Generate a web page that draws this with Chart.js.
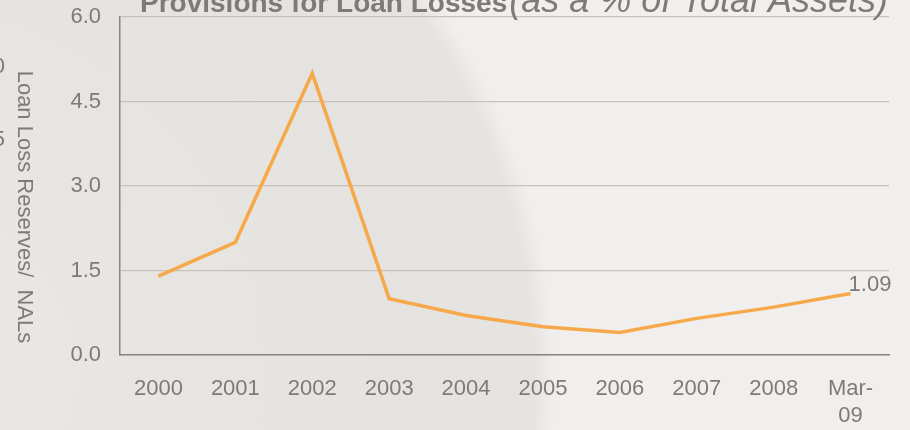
<!DOCTYPE html>
<html>
<head>
<meta charset="utf-8">
<script src="https://cdn.jsdelivr.net/npm/chart.js@4/dist/chart.umd.min.js"></script>
<style>
    html, body {
        margin: 0;
        padding: 0;
        width: 910px;
        height: 430px;
        overflow: hidden;
        background: #f0efed;
    }
    body {
        background: radial-gradient(circle 668px at -114px 380px, #e9e8e4 0%, #e5e3df 80%, #e6e4e0 97%, #f0efed 100%), #f0efed;
    }
    #wrap { position: relative; width: 910px; height: 430px; }
</style>
</head>
<body>
<div id="wrap"><canvas id="loanChart"></canvas></div>
<script>
// data
const categories = ['2000', '2001', '2002', '2003', '2004', '2005', '2006', '2007', '2008', ['Mar-', '09']];
const provisions = [1.4, 2.0, 5.0, 1.0, 0.7, 0.5, 0.4, 0.65, 0.85, 1.09];
const yTicks = [0, 1.5, 3.0, 4.5, 6.0];

const greyText = '#7f7a76';
const fontFamily = '"Liberation Sans", Arial, sans-serif';

/**
 * Draws the clipped title, the rotated axis title and the end label.
 */
const decorations = {
    id: 'decorations',
    afterDraw(chart) {
        const { ctx } = chart;
        ctx.save();
        ctx.fillStyle = greyText;

        // title, cut off at the top of the frame
        ctx.textBaseline = 'alphabetic';
        ctx.textAlign = 'left';
        ctx.font = `bold 28px ${fontFamily}`;
        const bold = 'Provisions for Loan Losses';
        ctx.fillText(bold, 140, 12);
        const w = ctx.measureText(bold).width;
        ctx.font = `italic 36px ${fontFamily}`;
        ctx.fillText('(as a % of Total Assets)', 140 + w + 2, 12);

        // leftovers of another axis at the left edge
        ctx.font = `22px ${fontFamily}`;
        ctx.textAlign = 'right';
        ctx.textBaseline = 'middle';
        ctx.fillText('0', 5, 67);
        ctx.fillText('5', 5, 140);

        // y axis title, reading top to bottom
        ctx.translate(24, 207);
        ctx.rotate(Math.PI / 2);
        ctx.textAlign = 'center';
        ctx.font = `22px ${fontFamily}`;
        ctx.fillText('Loan Loss Reserves/  NALs', 0, 0);
        ctx.restore();

        // value label on the last point
        const meta = chart.getDatasetMeta(0);
        const last = meta.data[meta.data.length - 1];
        ctx.save();
        ctx.fillStyle = greyText;
        ctx.font = `22px ${fontFamily}`;
        ctx.textAlign = 'left';
        ctx.textBaseline = 'bottom';
        ctx.fillText(provisions[provisions.length - 1].toFixed(2), last.x - 2, last.y + 2);
        ctx.restore();
    }
};

function createLoanChart() {
    const ctx = document.getElementById('loanChart')?.getContext('2d');
    if (!ctx) return;

    new Chart(ctx, {
        type: 'line',
        data: {
            labels: categories,
            datasets: [{
                label: 'Provisions',
                data: provisions,
                borderColor: '#f6a84a',
                borderWidth: 3.5,
                pointRadius: 0,
                tension: 0,
                fill: false
            }]
        },
        options: {
            responsive: false,
            animation: false,
            devicePixelRatio: 1,
            layout: { padding: { top: 17, right: 21, left: 0, bottom: 0 } },
            plugins: {
                legend: { display: false },
                tooltip: { enabled: false }
            },
            scales: {
                x: {
                    offset: true,
                    grid: { display: false, drawTicks: false },
                    border: { display: true, color: '#8a8480', width: 1.5 },
                    ticks: {
                        color: greyText,
                        font: { family: fontFamily, size: 22 },
                        padding: 21,
                        maxRotation: 0,
                        autoSkip: false
                    },
                    afterFit: (scale) => {
                        scale.height = 75;
                        scale.paddingLeft = 0;
                        scale.paddingRight = 0;
                    }
                },
                y: {
                    min: 0,
                    max: 6,
                    afterBuildTicks: (scale) => {
                        scale.ticks = yTicks.map(v => ({ value: v }));
                    },
                    grid: { color: '#c9c0bb', lineWidth: 1.3, drawTicks: false },
                    border: { display: true, color: '#8a8480', width: 1.5 },
                    ticks: {
                        color: greyText,
                        font: { family: fontFamily, size: 22 },
                        padding: 19,
                        callback: (v) => Number(v).toFixed(1)
                    },
                    afterFit: (scale) => {
                        scale.width = 120;
                        scale.paddingTop = 0;
                        scale.paddingBottom = 0;
                    }
                }
            }
        },
        plugins: [decorations]
    });
}

const canvas = document.getElementById('loanChart');
canvas.width = 910;
canvas.height = 430;
createLoanChart();
</script>
</body>
</html>
